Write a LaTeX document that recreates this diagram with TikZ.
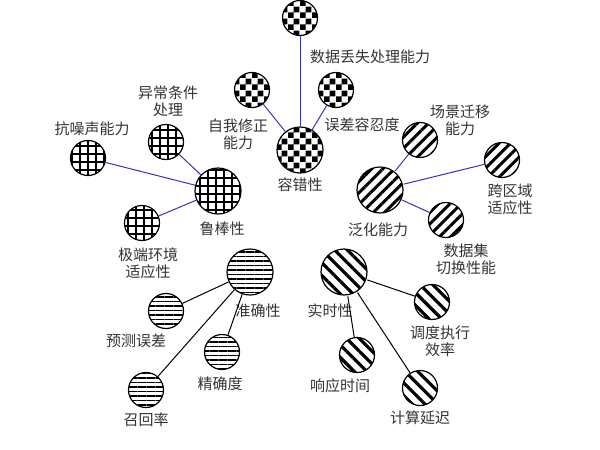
\documentclass[tikz,border=0pt]{standalone}
\usepackage{fontspec}
\setmainfont{Noto Sans CJK SC}
\usetikzlibrary{patterns.meta}
\tikzdeclarepattern{
  name=bigcheck,
  type=uncolored,
  bounding box={(0,0) and (12pt,12pt)},
  tile size={(12pt,12pt)},
  code={
    \pgfpathrectangle{\pgfpointorigin}{\pgfpoint{6pt}{6pt}}
    \pgfpathrectangle{\pgfpoint{6pt}{6pt}}{\pgfpoint{6pt}{6pt}}
    \pgfusepath{fill}
  }
}
\tikzset{
  big/.style={circle,draw,line width=1.2pt,minimum size=46pt,inner sep=0pt},
  small/.style={circle,draw,line width=1.2pt,minimum size=35pt,inner sep=0pt},
  gridfill/.style={pattern={Hatch[angle=0,distance=8pt,line width=1.3pt]}},
  checkfill/.style={pattern=bigcheck},
  nefill/.style={pattern={Lines[angle=45,distance=8pt,line width=3pt]}},
  nwfill/.style={pattern={Lines[angle=-45,distance=9pt,line width=3.2pt]}},
  hfill/.style={pattern={Lines[angle=0,distance=4.5pt,line width=1.2pt]}},
  txt/.style={font=\fontsize{15}{17}\selectfont,align=center,inner sep=0pt,text=black!80},
  blueline/.style={draw=blue!70!black!80,line width=1pt},
  blackline/.style={draw=black,line width=1pt}
}
\begin{document}
\begin{tikzpicture}[x=1pt,y=-1pt]
  \useasboundingbox (0,0) rectangle (600,450);
  % robustness
  \node[big,gridfill] (robust) at (218,191) {};
  \node[small,gridfill] (noise) at (88,158) {};
  \node[small,gridfill] (abnorm) at (166,142) {};
  \node[small,gridfill] (extreme) at (142,223) {};
  \node[txt] (robustl) at (222,229) {鲁棒性};
  \node[txt] (noisel) at (92,129) {抗噪声能力};
  \node[txt] (abnorml) at (168,101) {异常条件\\处理};
  \node[txt] (extremel) at (148,263) {极端环境\\适应性};
  \draw[blueline] (robust) -- (noise);
  \draw[blueline] (robust) -- (abnorm);
  \draw[blueline] (robust) -- (extreme);
  % fault tolerance
  \node[big,checkfill] (fault) at (300,150) {};
  \node[small,checkfill] (loss) at (300,18) {};
  \node[small,checkfill] (selffix) at (252,90) {};
  \node[small,checkfill] (errtol) at (336,90) {};
  \node[txt] (faultl) at (300,185) {容错性};
  \node[txt] (lossl) at (370,57) {数据丢失处理能力};
  \node[txt] (selffixl) at (238,134) {自我修正\\能力};
  \node[txt] (errtoll) at (362,125) {误差容忍度};
  \draw[blueline] (fault) -- (loss);
  \draw[blueline] (fault) -- (selffix);
  \draw[blueline] (fault) -- (errtol);
  % generalization
  \node[big,nefill] (general) at (380,190) {};
  \node[small,nefill] (scene) at (420,140) {};
  \node[small,nefill] (region) at (502,160) {};
  \node[small,nefill] (dataset) at (446,220) {};
  \node[txt] (generall) at (378,230) {泛化能力};
  \node[txt] (scenel) at (460,120) {场景迁移\\能力};
  \node[txt] (regionl) at (510,199) {跨区域\\适应性};
  \node[txt] (datasetl) at (466,259) {数据集\\切换性能};
  \draw[blueline] (general) -- (scene);
  \draw[blueline] (general) -- (region);
  \draw[blueline] (general) -- (dataset);
  % accuracy
  \node[big,hfill] (accur) at (250,272) {};
  \node[small,hfill] (prederr) at (166,311) {};
  \node[small,hfill] (precis) at (222,352) {};
  \node[small,hfill] (recall) at (146,390) {};
  \node[txt] (accurl) at (258,311) {准确性};
  \node[txt] (prederrl) at (136,341) {预测误差};
  \node[txt] (precisl) at (220,384) {精确度};
  \node[txt] (recalll) at (146,420) {召回率};
  \draw[blackline] (accur) -- (prederr);
  \draw[blackline] (accur) -- (precis);
  \draw[blackline] (accur) -- (recall);
  % real time
  \node[big,nwfill] (rt) at (344,272) {};
  \node[small,nwfill] (sched) at (432,302) {};
  \node[small,nwfill] (resp) at (357,355) {};
  \node[small,nwfill] (calc) at (420,388) {};
  \node[txt] (rtl) at (330,311) {实时性};
  \node[txt] (schedl) at (440,341) {调度执行\\效率};
  \node[txt] (respl) at (340,386) {响应时间};
  \node[txt] (calcl) at (420,418) {计算延迟};
  \draw[blackline] (rt) -- (sched);
  \draw[blackline] (rt) -- (resp);
  \draw[blackline] (rt) -- (calc);
\end{tikzpicture}
\end{document}
